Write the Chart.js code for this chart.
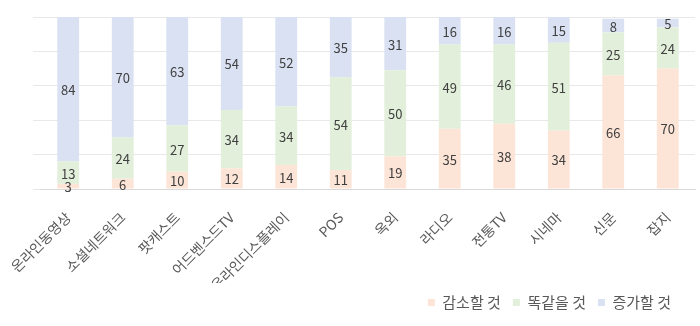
<!DOCTYPE html>
<html>
<head>
<meta charset="utf-8">
<script src="https://cdn.jsdelivr.net/npm/chart.js@4"></script>
<style>
  html, body { margin: 0; padding: 0; background: #fff; }
  #wrap { width: 700px; height: 326px; }
</style>
</head>
<body>
<div id="wrap"><canvas id="barChart"></canvas></div>
<script>
const categories = ['온라인동영상', '소셜네트워크', '팟캐스트', '어드벤스드TV', '온라인디스플레이', 'POS', '옥외', '라디오', '전통TV', '시네마', '신문', '잡지'];
const decrease = [3, 6, 10, 12, 14, 11, 19, 35, 38, 34, 66, 70];
const same = [13, 24, 27, 34, 34, 54, 50, 49, 46, 51, 25, 24];
const increase = [84, 70, 63, 54, 52, 35, 31, 16, 16, 15, 8, 5];
const yTicks = [0, 20, 40, 60, 80, 100];

const fontFamily = '"Noto Sans CJK KR", "Noto Sans", sans-serif';

// 각 막대 가운데에 값 쓰기
const valueLabels = {
  id: 'valueLabels',
  afterDatasetsDraw(chart) {
    const ctx = chart.ctx;
    ctx.save();
    ctx.fillStyle = '#404040';
    ctx.font = '13px ' + fontFamily;
    ctx.textAlign = 'center';
    ctx.textBaseline = 'middle';
    chart.data.datasets.forEach((ds, i) => {
      chart.getDatasetMeta(i).data.forEach((bar, j) => {
        const p = bar.getProps(['x', 'y', 'base'], true);
        ctx.fillText(ds.data[j], p.x, (p.y + p.base) / 2 + 1);
      });
    });
    ctx.restore();
  }
};

// 범례를 조금 왼쪽으로
const legendShift = {
  id: 'legendShift',
  afterLayout(chart) {
    chart.legend.left -= 12;
    chart.legend.right -= 12;
  }
};

let barCtx = document.getElementById('barChart');
let barChart = new Chart(barCtx, {
  type: 'bar',
  data: {
    labels: categories,
    datasets: [{
      label: '감소할 것',
      data: decrease,
      backgroundColor: '#FCE4D6',
    }, {
      label: '똑같을 것',
      data: same,
      backgroundColor: '#E2EFDA',
    }, {
      label: '증가할 것',
      data: increase,
      backgroundColor: '#D9E1F2',
    }],
  },
  options: {
    responsive: true,
    maintainAspectRatio: false,
    animation: false,
    barPercentage: 0.8,
    categoryPercentage: 0.5,
    layout: { padding: { left: 8, right: 5, top: 17, bottom: 6 } },
    plugins: {
      legend: {
        position: 'bottom',
        align: 'end',
        labels: {
          boxWidth: 7,
          boxHeight: 7,
          color: '#595959',
          font: { family: fontFamily, size: 15 },
          padding: 12,
        },
      },
      tooltip: { enabled: false },
    },
    scales: {
      x: {
        stacked: true,
        grid: { display: false },
        border: { color: '#D9D9D9' },
        afterFit(axis) { axis.height = 94; },
        ticks: {
          color: '#595959',
          font: { family: fontFamily, size: 14 },
          minRotation: 45,
          maxRotation: 45,
          autoSkip: false,
          padding: 12,
        },
      },
      y: {
        stacked: true,
        min: yTicks[0],
        max: yTicks[yTicks.length - 1],
        afterBuildTicks(axis) { axis.ticks = yTicks.map(v => ({ value: v })); },
        afterFit(axis) { axis.width = 30; },
        grid: { color: '#E8E8E8' },
        border: { display: false },
        ticks: { display: false },
      },
    },
  },
  plugins: [valueLabels, legendShift],
});
</script>
</body>
</html>
